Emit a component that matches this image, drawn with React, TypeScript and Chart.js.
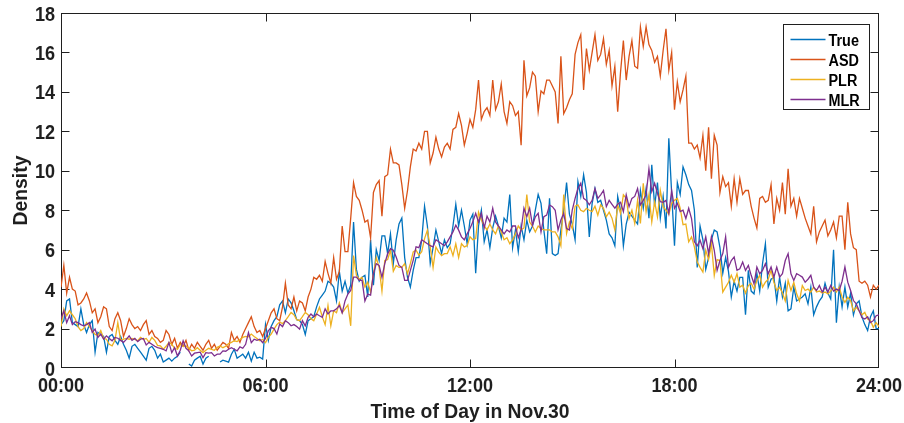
import { useEffect, useRef } from 'react';
import { Chart, registerables } from 'chart.js';

Chart.register(...registerables);

// Sampling interval of the density series, in hours (5 minutes).
const STEP_HOURS = 5 / 60;

const xTickLabels = ['00:00', '06:00', '12:00', '18:00', '24:00'];
const xTitle = 'Time of Day in Nov.30';
const yTitle = 'Density';

const seriesNames = ['True', 'ASD', 'PLR', 'MLR'];
const seriesColors = ['#0072BD', '#D95319', '#EDB120', '#7E2F8E'];

// One row per hour (12 samples), plus the closing 24:00 sample.
const trueDensity: (number | null)[] = [
  2.2, 2.4, 3.4, 3.5, 2.3, 2.2, 2.1, 3.0, 2.2, 1.8, 2.2, 2.4,
  0.8, 1.8, 1.7, 1.6, 0.8, 1.6, 1.7, 1.4, 1.2, 1.6, 1.2, 0.9,
  0.5, 1.1, 1.2, 1.0, 0.8, 0.6, 0.4, 1.0, 1.1, 0.9, 0.5, 0.7,
  0.3, 0.4, 0.5, 0.35, 0.5, 0.6, 0.8, null, null, 0.2, 0.1, 0.4,
  0.5, 0.6, 0.2, 0.5, 0.6, null, null, null, 0.3, 0.4, 0.35, 0.3,
  0.7, 0.95, 0.5, 0.6, 0.7, 0.5, 0.8, 0.35, 0.8, 0.5, 0.55, 0.45,
  2.2, 1.4, 2.1, 2.4, 2.6, 3.2, 3.4, 2.8, 3.5, 3.3, 2.9, 2.45,
  2.4, 2.2, 1.7, 2.4, 2.5, 2.6, 3.1, 3.5, 3.7, 3.9, 4.4, 4.3,
  4.1, 3.4, 4.9, 3.9, 4.4, 3.8, 4.2, 7.4, 5.0, 4.4, 4.6, 4.7,
  3.6, 6.5, 4.2, 6.0, 5.45, 6.7, 6.7, 5.8, 6.8, 5.3, 6.5, 7.3,
  7.6, 5.6, 4.6, 4.1, 4.95, 5.6, 5.6, 6.5, 8.2, 7.2, 5.3, 6.1,
  7.0, 6.4, 5.8, 6.5, 6.1, 6.3, 7.2, 8.3, 7.2, 8.0, 7.2, 6.3,
  7.5, 7.8, 4.8, 7.2, 8.0, 6.4, 7.0, 6.1, 7.1, 7.7, 7.2, 6.6,
  7.6, 7.4, 8.8, 6.1, 7.0, 5.9, 7.2, 6.5, 7.5, 6.9, 7.2, 8.0,
  8.8, 8.35, 7.0, 5.8, 8.6, 5.8, 5.7, 5.8, 7.0, 8.0, 9.4, 7.8,
  7.3, 6.5, 9.45, 8.7, 9.8, 8.9, 6.65, 8.35, 9.1, 8.4, 8.5, 8.0,
  7.5, 6.8, 6.6, 6.2, 8.7, 8.0, 6.2, 7.3, 7.9, 7.7, 7.5, 7.3,
  9.0, 8.1, 9.1, 7.6, 10.3, 8.2, 9.4, 7.6, 8.7, 7.07, 11.65, 8.86,
  6.2, 9.4, 8.8, 10.2, 9.8, 9.3, 9.0, 8.0, 5.1, 7.2, 6.5, 5.0,
  5.6, 6.5, 7.0, 6.9, 6.1, 4.8, 5.6, 4.9, 3.6, 4.4, 3.9, 4.6,
  4.6, 2.7, 4.95, 3.9, 3.76, 4.8, 3.9, 5.3, 6.3, 4.1, 4.5, 4.6,
  3.4, 4.6, 3.6, 4.3, 2.9, 3.0, 4.1, 3.4, 3.5, 3.6, 3.76, 3.25,
  4.1, 2.7, 3.1, 3.4, 3.6, 4.3, 3.8, 3.5, 6.0, 2.3, 4.1, 3.1,
  4.1, 3.1, 3.8, 2.7, 3.25, 3.4, 2.6, 2.2, 1.9, 2.6, 2.9, 2.0,
  2.0,
];

const asdDensity: number[] = [
  4.1, 5.2, 3.8, 4.6, 4.0, 3.9, 3.2, 3.3, 3.5, 3.8, 3.4, 2.8,
  3.0, 2.3, 2.6, 3.1, 3.0, 2.1, 1.9, 2.5, 2.8, 2.4, 1.6, 2.0,
  2.5, 2.2, 2.0, 2.1, 1.9, 2.2, 2.4, 1.7, 1.9, 1.6, 1.5, 1.3,
  1.4, 1.9, 1.7, 1.2, 1.5, 1.0, 1.3, 1.1, 1.4, 0.9, 1.2, 1.0,
  1.3, 1.1, 0.9, 1.2, 1.4, 1.0, 1.2, 0.9, 1.1, 1.3, 1.2, 1.0,
  1.8, 1.4, 1.6, 1.3, 1.7, 2.0, 2.3, 2.6, 2.1, 1.8, 1.9, 1.6,
  2.0, 2.4, 2.8, 3.0, 2.5, 2.4, 3.1, 4.3, 3.2, 3.0, 3.6, 2.9,
  3.4, 3.3, 2.9, 3.6, 4.0, 4.6, 4.5, 4.7, 4.4, 5.4, 4.8, 4.3,
  5.6, 4.5, 4.9, 7.2, 5.9, 5.9, 7.6, 9.4, 8.7, 8.5, 8.0, 7.4,
  7.5, 6.6, 8.9, 9.3, 9.5, 7.7, 9.7, 9.8, 11.1, 10.4, 10.4, 10.3,
  9.3, 8.1, 9.0, 10.2, 11.1, 11.0, 11.4, 11.1, 12.0, 12.0, 10.4, 10.9,
  11.7, 11.1, 10.7, 11.2, 11.4, 11.1, 12.1, 12.2, 12.9, 12.3, 11.3, 11.9,
  12.6, 12.2, 13.1, 14.6, 12.6, 13.0, 13.2, 12.8, 14.6, 13.1, 13.5, 14.4,
  13.0, 12.4, 13.5, 13.3, 12.8, 13.0, 11.3, 15.6, 13.8, 14.2, 15.0, 14.8,
  13.0, 14.05, 13.9, 14.6, 14.6, 14.3, 14.0, 12.4, 15.8, 12.9, 13.2, 13.6,
  13.9, 15.9, 16.5, 16.9, 14.1, 16.2, 15.1, 16.0, 16.9, 15.6, 15.9, 16.7,
  15.4, 16.1, 14.3, 15.3, 13.0, 15.0, 16.6, 14.6, 15.8, 16.6, 15.3, 15.2,
  17.3, 16.3, 17.3, 16.4, 16.1, 15.5, 15.8, 14.8, 16.1, 17.2, 15.1, 16.0,
  13.1, 14.5, 13.5, 14.1, 14.8, 11.4, 11.4, 11.1, 11.3, 10.65, 11.8, 10.0,
  12.2, 9.6, 11.8, 11.3, 8.9, 9.7, 9.2, 9.4, 8.2, 9.6, 8.4, 9.6,
  8.8, 9.0, 9.0, 8.2, 7.6, 7.1, 8.6, 8.7, 8.4, 8.5, 9.3, 7.3,
  8.6, 8.0, 9.4, 7.8, 10.1, 8.2, 8.6, 7.7, 8.6, 8.1, 7.6, 7.2,
  6.8, 8.2, 6.4, 6.9, 7.2, 7.5, 6.7, 7.0, 7.4, 6.6, 7.7, 7.7,
  6.0, 8.4, 6.8, 6.1, 6.0, 4.4, 4.3, 4.4, 4.2, 3.6, 4.2, 4.0,
  4.2,
];

const plrDensity: number[] = [
  2.1, 3.0, 2.65, 2.9, 2.7, 2.5, 2.1, 1.9, 2.0, 2.3, 2.1, 1.9,
  1.7, 1.65, 1.9, 1.5, 1.46, 1.2, 1.12, 1.4, 2.3, 1.4, 1.46, 1.5,
  1.46, 1.5, 1.45, 1.38, 1.55, 1.45, 1.5, 1.3, 1.55, 1.4, 1.15, 1.12,
  0.95, 1.1, 1.3, 1.2, 1.0, 0.95, 1.2, 1.1, 1.12, 1.0, 0.87, 0.9,
  1.03, 0.9, 0.78, 0.9, 1.0, 0.95, 0.9, 1.05, 1.12, 1.03, 1.1, 1.24,
  1.3, 1.38, 1.34, 1.45, 1.55, 1.6, 1.58, 1.72, 1.6, 1.5, 1.38, 1.46,
  1.29, 1.55, 1.72, 1.97, 2.2, 2.33, 2.25, 2.4, 2.6, 2.82, 2.7, 2.45,
  2.4, 2.6, 2.82, 2.7, 2.5, 2.4, 2.74, 3.08, 2.6, 2.2, 3.17, 2.14,
  2.9, 2.8, 3.3, 2.8, 3.0, 3.2, 2.14, 5.7, 4.7, 4.5, 4.6, 4.1,
  4.35, 3.84, 4.78, 5.6, 5.1, 3.9, 5.45, 5.5, 5.97, 4.9, 5.2, 5.1,
  5.1, 5.29, 4.78, 5.29, 5.88, 5.97, 5.72, 5.9, 6.56, 6.99, 6.14, 5.1,
  6.14, 5.88, 5.7, 5.8, 5.8, 6.14, 5.7, 6.3, 5.6, 6.3, 6.14, 6.2,
  6.65, 6.5, 6.56, 7.9, 7.5, 7.2, 7.0, 7.3, 7.0, 6.8, 7.2, 6.9,
  6.5, 6.6, 6.3, 6.5, 6.8, 7.2, 7.0, 7.1, 8.8, 7.4, 7.2, 6.9,
  7.2, 7.07, 7.0, 7.0, 7.0, 6.9, 6.9, 6.65, 6.2, 8.8, 6.82, 7.4,
  7.07, 8.2, 8.27, 8.0, 7.93, 8.1, 8.0, 7.93, 8.2, 7.75, 8.27, 8.1,
  7.67, 7.9, 7.6, 7.0, 8.27, 7.84, 8.78, 8.6, 7.58, 8.0, 7.33, 8.5,
  7.33, 9.37, 7.93, 8.78, 7.41, 8.43, 7.67, 9.0, 8.18, 8.0, 7.8, 8.35,
  8.5, 8.6, 8.1, 7.27, 7.3, 6.4, 6.65, 6.14, 5.38, 5.1, 4.86, 5.97,
  5.5, 6.3, 4.7, 5.5, 5.45, 3.85, 4.1, 4.35, 4.7, 4.35, 4.78, 4.1,
  4.2, 3.8, 4.18, 4.3, 4.0, 4.44, 4.7, 4.1, 4.35, 4.5, 4.95, 4.35,
  3.93, 4.1, 3.8, 3.4, 4.44, 3.93, 4.35, 3.76, 3.4, 4.18, 3.93, 4.0,
  3.85, 4.1, 3.85, 3.9, 3.8, 3.85, 3.76, 3.9, 4.1, 3.85, 4.1, 3.6,
  3.33, 3.59, 3.42, 2.9, 3.08, 2.9, 2.7, 2.82, 2.48, 2.4, 2.06, 2.3,
  2.1,
];

const mlrDensity: number[] = [
  2.5, 2.9, 2.3, 2.65, 2.2, 2.35, 2.3, 2.2, 2.14, 2.2, 2.3, 1.8,
  1.97, 1.55, 1.72, 1.46, 1.63, 1.5, 1.38, 1.55, 1.51, 1.4, 1.3, 1.45,
  1.63, 1.4, 1.5, 1.34, 1.46, 1.5, 1.17, 1.3, 1.2, 1.1, 1.03, 1.0,
  0.95, 0.87, 1.29, 0.78, 1.03, 0.61, 0.9, 1.38, 1.0, 0.87, 0.61, 0.75,
  0.78, 0.8, 0.53, 0.78, 0.75, 0.78, 0.61, 0.7, 0.7, 0.87, 0.85, 0.95,
  1.03, 0.95, 0.87, 1.07, 1.0, 1.2, 1.8, 1.29, 1.46, 1.4, 1.46, 1.29,
  1.5, 1.89, 2.06, 2.0, 1.72, 2.23, 2.1, 2.4, 2.3, 2.14, 2.2, 2.1,
  1.97, 2.4, 2.14, 2.57, 2.74, 2.6, 2.74, 2.65, 2.57, 3.0, 2.74, 2.9,
  2.9, 3.0, 3.17, 2.8, 3.4, 3.75, 3.93, 4.61, 4.61, 4.44, 4.44, 3.4,
  3.75, 3.7, 4.78, 5.29, 5.2, 4.6, 5.29, 5.8, 6.05, 5.97, 5.63, 5.2,
  5.1, 4.44, 4.44, 4.95, 5.46, 6.14, 6.1, 6.5, 6.4, 6.3, 6.2, 6.14,
  6.5, 6.4, 6.3, 6.2, 6.4, 6.65, 6.9, 7.24, 6.99, 6.65, 6.5, 6.8,
  7.07, 7.41, 7.84, 7.4, 7.84, 7.1, 7.7, 7.4, 8.1, 7.4, 7.2, 7.0,
  6.8, 7.0, 6.9, 7.2, 7.2, 6.6, 7.0, 8.1, 7.67, 8.1, 7.24, 7.67,
  7.84, 6.9, 7.67, 7.75, 8.27, 8.18, 8.0, 7.0, 7.5, 7.84, 7.07, 7.0,
  8.0, 8.6, 9.1, 9.37, 8.6, 8.5, 8.27, 8.5, 9.1, 8.6, 8.78, 9.0,
  8.18, 8.5, 8.3, 8.1, 8.3, 8.4, 7.93, 8.78, 8.18, 8.6, 8.7, 9.1,
  8.27, 8.5, 8.78, 10.1, 8.94, 9.37, 8.86, 8.43, 8.4, 8.5, 7.84, 9.0,
  8.1, 8.35, 7.93, 8.0, 7.58, 8.1, 7.58, 6.4, 6.2, 6.48, 6.05, 6.65,
  5.8, 6.65, 5.97, 4.95, 5.45, 5.8, 6.65, 5.1, 5.45, 5.63, 4.95, 5.03,
  5.37, 4.95, 5.2, 4.7, 4.27, 5.12, 4.78, 4.95, 5.29, 4.78, 5.12, 4.61,
  5.12, 4.61, 4.78, 5.45, 5.8, 4.78, 4.44, 4.78, 4.7, 4.61, 4.35, 4.5,
  4.7, 4.1, 3.93, 4.18, 3.85, 4.1, 3.85, 4.18, 3.9, 4.0, 3.93, 4.4,
  5.12, 4.35, 3.93, 3.42, 3.25, 2.9, 2.56, 2.48, 2.6, 2.3, 2.4, 2.65,
  2.7,
];

const seriesValues = [trueDensity, asdDensity, plrDensity, mlrDensity];

const FONT_FAMILY = "'Liberation Sans', Arial, Helvetica, sans-serif";
const INK = '#1f1f1f';
const TICK_LEN = 8;

// Bold, slightly condensed text (Helvetica-like axis lettering).
function condensedText(
  ctx: CanvasRenderingContext2D,
  text: string,
  x: number,
  y: number,
  opts: { size: number; squeeze: number; align: CanvasTextAlign; angle?: number; color?: string },
) {
  ctx.save();
  ctx.translate(x, y);
  if (opts.angle) ctx.rotate(opts.angle);
  ctx.scale(opts.squeeze, 1);
  ctx.font = `bold ${opts.size}px ${FONT_FAMILY}`;
  ctx.fillStyle = opts.color ?? INK;
  ctx.textAlign = opts.align;
  ctx.textBaseline = 'alphabetic';
  ctx.fillText(text, 0, 0);
  ctx.restore();
}

// Boxed axes with inward tick marks on all four sides, tick labels and titles.
const boxedAxes = {
  id: 'boxedAxes',
  beforeDatasetsDraw(chart: any) {
    const { ctx, chartArea: a, scales } = chart;
    const l = Math.round(a.left) + 0.5;
    const r = Math.round(a.right) - 0.5;
    const t = Math.round(a.top) + 0.5;
    const b = Math.round(a.bottom) - 0.5;
    ctx.save();
    ctx.strokeStyle = INK;
    ctx.lineWidth = 1;
    ctx.strokeRect(l, t, r - l, b - t);
    ctx.beginPath();
    for (const tick of scales.x.ticks) {
      const px = Math.round(scales.x.getPixelForValue(tick.value)) + 0.5;
      if (px <= l + 1 || px >= r - 1) continue;
      ctx.moveTo(px, b);
      ctx.lineTo(px, b - TICK_LEN);
      ctx.moveTo(px, t);
      ctx.lineTo(px, t + TICK_LEN);
    }
    for (const tick of scales.y.ticks) {
      const py = Math.round(scales.y.getPixelForValue(tick.value)) + 0.5;
      if (py <= t + 1 || py >= b - 1) continue;
      ctx.moveTo(l, py);
      ctx.lineTo(l + TICK_LEN, py);
      ctx.moveTo(r, py);
      ctx.lineTo(r - TICK_LEN, py);
    }
    ctx.stroke();
    ctx.restore();

    // tick labels
    for (const tick of scales.x.ticks) {
      const px = scales.x.getPixelForValue(tick.value);
      const label = xTickLabels[Math.round(tick.value / 6)];
      condensedText(ctx, label, px, a.bottom + 24, { size: 21, squeeze: 0.86, align: 'center' });
    }
    for (const tick of scales.y.ticks) {
      const py = scales.y.getPixelForValue(tick.value);
      condensedText(ctx, String(tick.value), a.left - 6, py + 7.5, { size: 21, squeeze: 0.86, align: 'right' });
    }
    // axis titles
    condensedText(ctx, xTitle, (a.left + a.right) / 2, a.bottom + 49.5, { size: 21, squeeze: 0.92, align: 'center' });
    condensedText(ctx, yTitle, 27, (a.top + a.bottom) / 2, {
      size: 21,
      squeeze: 0.92,
      align: 'center',
      angle: -Math.PI / 2,
    });
  },
};

// Framed legend in the upper-right corner of the plot.
const boxedLegend = {
  id: 'boxedLegend',
  afterDraw(chart: any) {
    const { ctx, chartArea: a } = chart;
    const w = 86;
    const h = 85;
    const x = Math.round(a.right) - 10 - w + 0.5;
    const y = Math.round(a.top) + 11 + 0.5;
    ctx.save();
    ctx.fillStyle = '#ffffff';
    ctx.fillRect(x, y, w, h);
    ctx.strokeStyle = INK;
    ctx.lineWidth = 1;
    ctx.strokeRect(x, y, w, h);
    chart.data.datasets
      .slice()
      .sort((p: any, q: any) => p.legendIndex - q.legendIndex)
      .forEach((ds: any, i: number) => {
        const cy = y + 15 + i * 20;
        ctx.strokeStyle = ds.borderColor;
        ctx.lineWidth = 1.5;
        ctx.beginPath();
        ctx.moveTo(x + 7, cy);
        ctx.lineTo(x + 42, cy);
        ctx.stroke();
        condensedText(ctx, ds.label, x + 45, cy + 6, { size: 16, squeeze: 0.9, align: 'left', color: '#000000' });
      });
    ctx.restore();
  },
};

export default function App() {
  const canvasRef = useRef<HTMLCanvasElement | null>(null);

  useEffect(() => {
    const canvas = canvasRef.current;
    if (!canvas) return;

    const datasets = seriesNames.map((name, k) => ({
      label: name,
      legendIndex: k,
      data: seriesValues[k].map((v, i) => ({ x: i * STEP_HOURS, y: v })),
      borderColor: seriesColors[k],
      backgroundColor: seriesColors[k],
      borderWidth: 1.3,
      pointRadius: 0,
      tension: 0,
      spanGaps: false,
      // later series are drawn over earlier ones
      order: seriesNames.length - k,
    }));

    const chart = new Chart(canvas, {
      type: 'line',
      data: { datasets },
      options: {
        responsive: false,
        animation: false,
        devicePixelRatio: 1,
        parsing: false as any,
        normalized: true,
        layout: { padding: { left: 0, top: 13, right: 25, bottom: 0 } },
        plugins: {
          legend: { display: false },
          tooltip: { enabled: false },
        },
        scales: {
          x: {
            type: 'linear',
            min: 0,
            max: 24,
            grid: { display: false, drawTicks: false },
            border: { display: false },
            ticks: { stepSize: 6, autoSkip: false, display: false },
            afterFit: (s: any) => {
              s.height = 55;
            },
          },
          y: {
            type: 'linear',
            min: 0,
            max: 18,
            grid: { display: false, drawTicks: false },
            border: { display: false },
            ticks: { stepSize: 2, display: false },
            afterFit: (s: any) => {
              s.width = 61;
            },
          },
        },
      },
      plugins: [boxedAxes, boxedLegend],
    });

    return () => chart.destroy();
  }, []);

  return (
    <div style={{ position: 'absolute', left: 0, top: 0, width: 904, height: 423, background: '#ffffff' }}>
      <canvas ref={canvasRef} width={904} height={423} style={{ display: 'block' }} />
    </div>
  );
}
